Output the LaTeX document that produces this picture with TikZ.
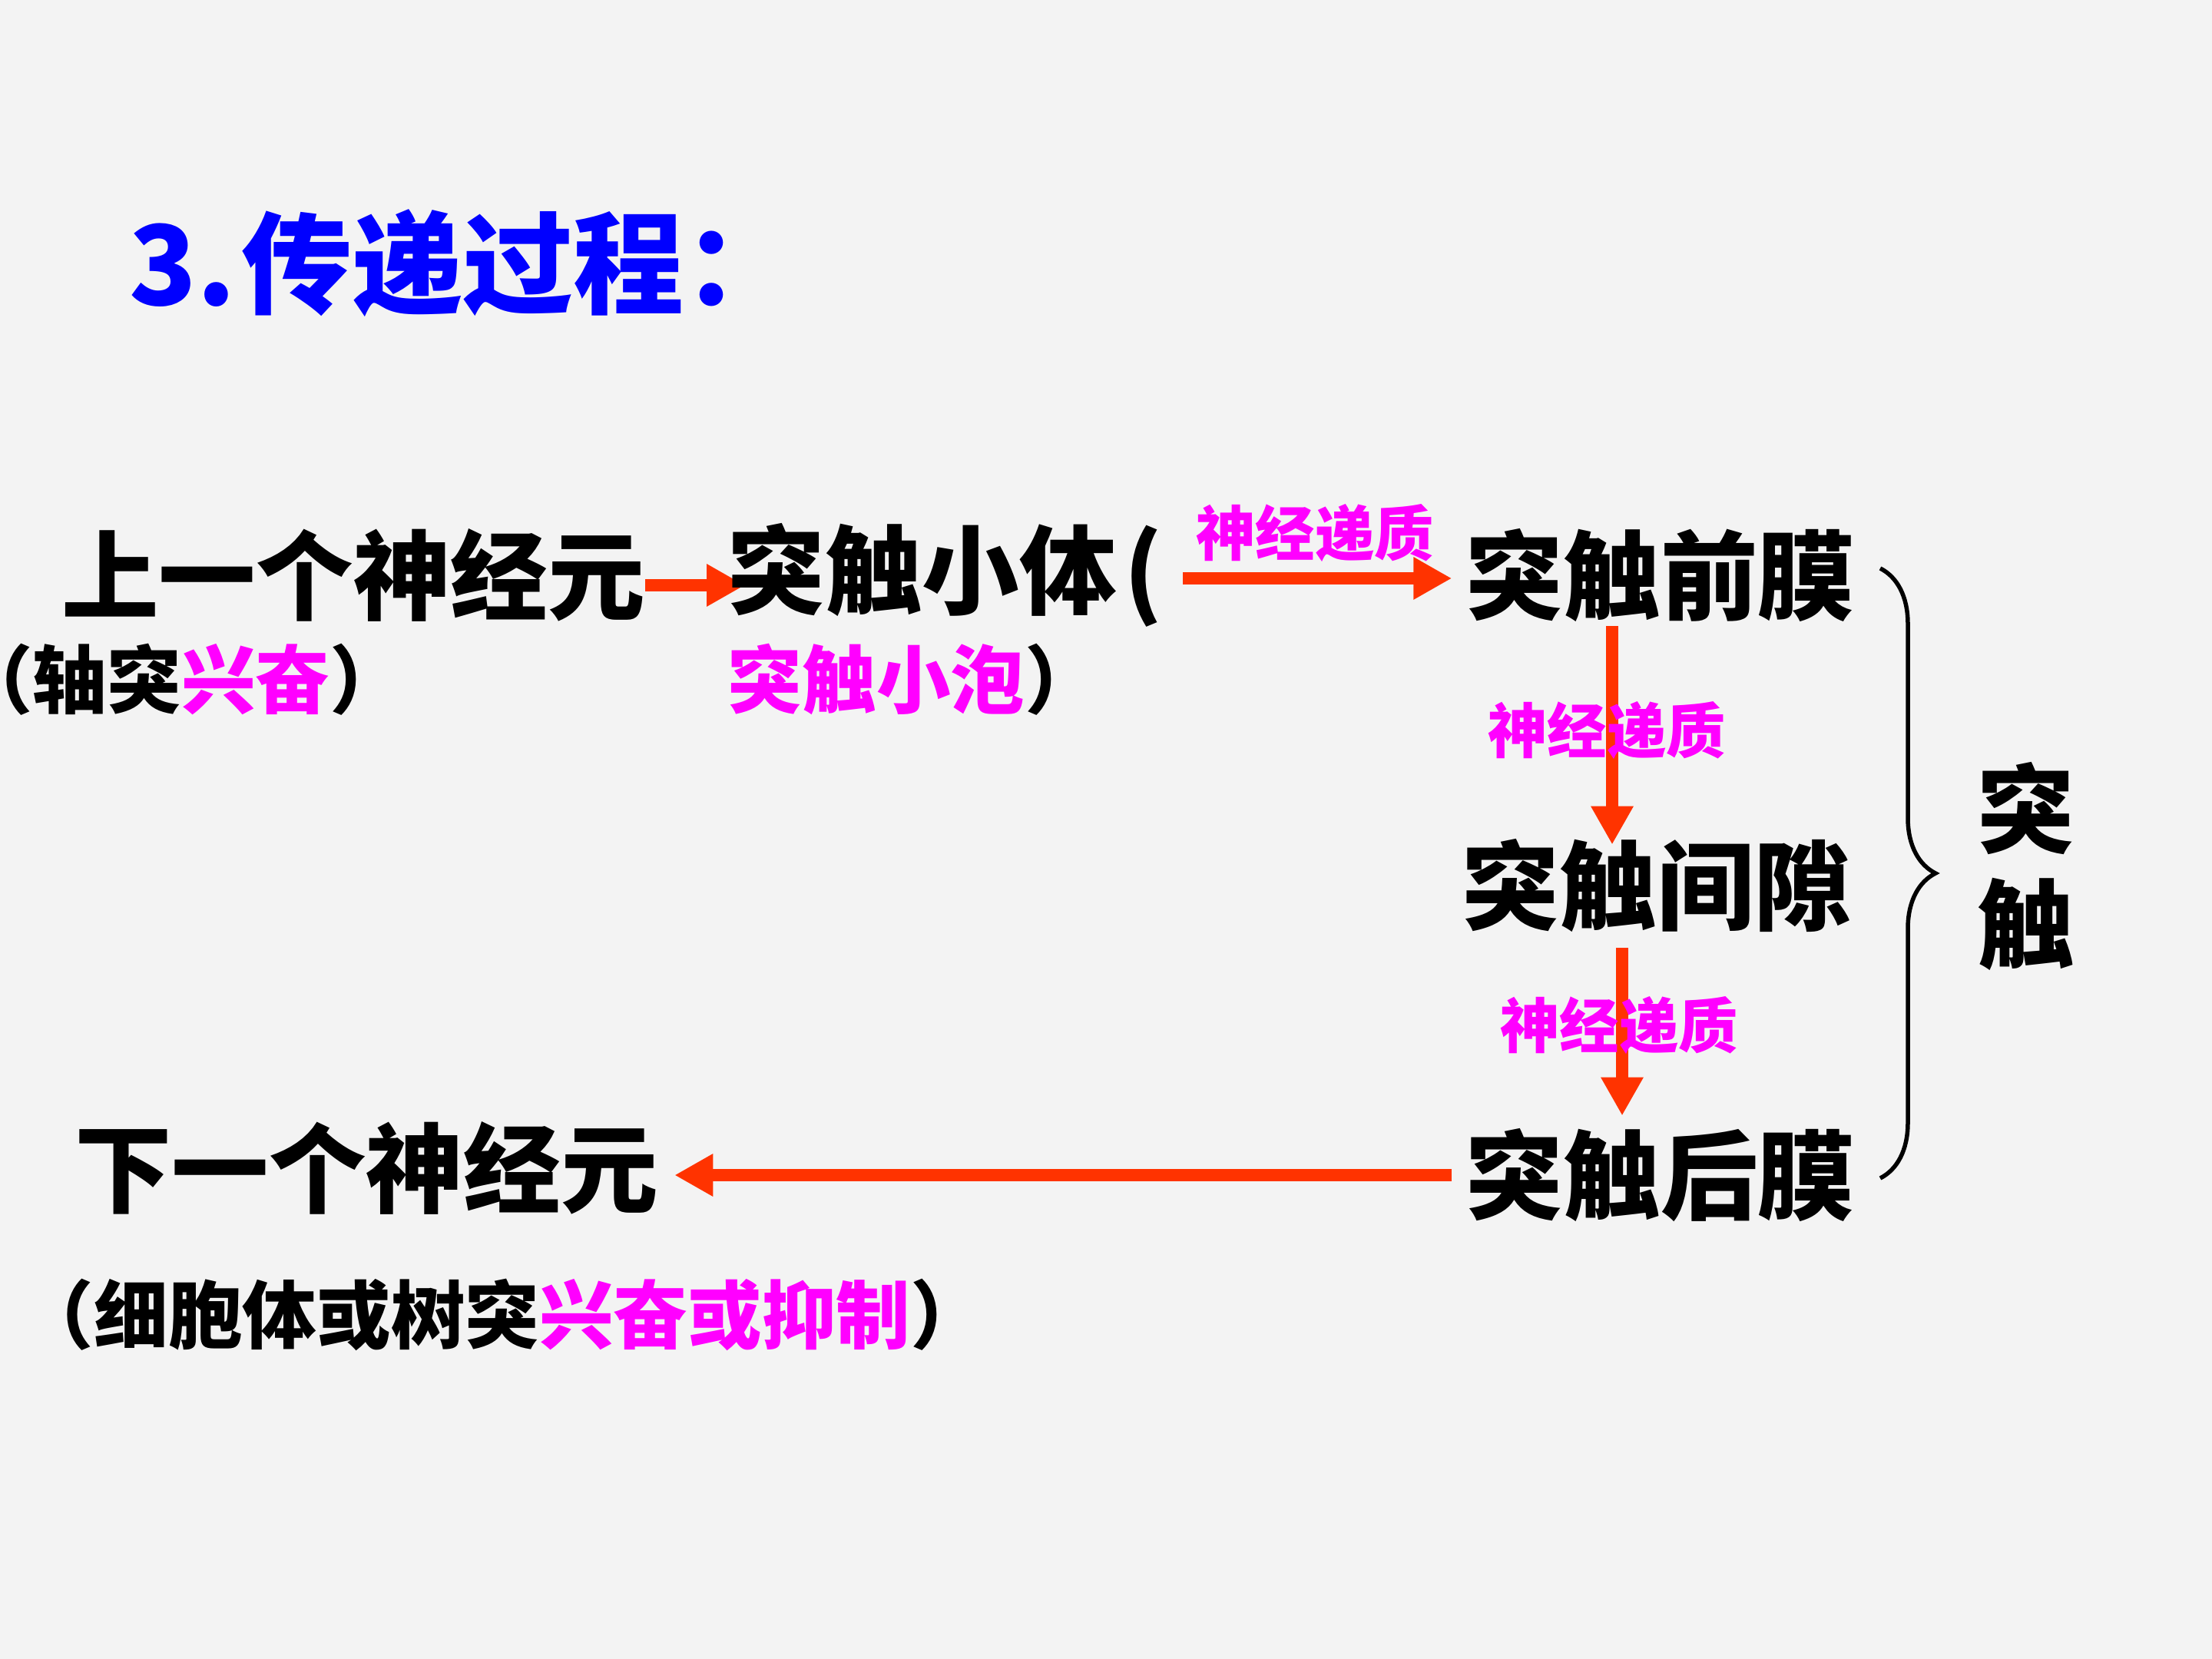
\documentclass[tikz,border=0pt]{standalone}
\usepackage{fontspec}
\setmainfont{Noto Sans CJK SC}
\usetikzlibrary{arrows.meta,positioning,decorations.pathreplacing,backgrounds}
\definecolor{bgc}{HTML}{F3F3F3}
\definecolor{arrred}{HTML}{FF3300}
\definecolor{ntmag}{HTML}{FF00FF}
\definecolor{ttlblue}{HTML}{0000FF}
\begin{document}
\begin{tikzpicture}[>=Stealth,font=\bfseries]
\tikzstyle{big}=[inner sep=0pt,font=\fontsize{36pt}{42.7pt}\selectfont\bfseries]
\tikzstyle{sub}=[inner sep=0pt,font=\fontsize{27.5pt}{33pt}\selectfont\bfseries]
\tikzstyle{nt}=[inner sep=0pt,text=ntmag,font=\fontsize{22pt}{26pt}\selectfont\bfseries]
\tikzstyle{arr}=[arrred,line width=1.6mm,-{Triangle[length=5mm,width=5.2mm]}]
\useasboundingbox (0,0) rectangle (28.8,-21.6);
\node[inner sep=0pt,anchor=west,text=ttlblue,font=\fontsize{41pt}{48pt}\selectfont\bfseries] (title) at (1.68,-3.43) {3.\hspace{0.05em}传递过程：};
\node[big] (up) at (4.60,-7.49) {上一个神经元};
\node[sub] (upsub) at (2.36,-8.85) {（轴突\textcolor{ntmag}{兴奋}）};
\node[big,anchor=west] (sv) at (9.47,-7.49) {突触小体\hspace{0.08em}(};
\node[sub,anchor=west] (svsub) at (9.47,-8.85) {\textcolor{ntmag}{突触小泡}）};
\node[big] (pre) at (21.62,-7.49) {突触前膜};
\node[big] (cleft) at (21.57,-11.53) {突触间隙};
\node[big] (post) at (21.62,-15.30) {突触后膜};
\node[big] (down) at (4.77,-15.21) {下一个神经元};
\node[sub] (downsub) at (6.54,-17.12) {（细胞体或树突\textcolor{ntmag}{兴奋或抑制}）};
\node[nt] (nt1) at (17.12,-6.94) {神经递质};
\node[nt] (nt2) at (20.92,-9.51) {神经递质};
\node[nt] (nt3) at (21.08,-13.35) {神经递质};
\node[big,align=center] (syn) at (26.38,-11.28) {突\\触};
\coordinate (bt) at (24.48,-7.40);
\coordinate (bb) at (24.48,-15.34);
\draw[line width=0.55mm,decorate,decoration={brace,amplitude=7.2mm}] (bt) -- (bb);
\begin{scope}[on background layer]
\fill[bgc] (0,0) rectangle (28.8,-21.6);
\draw[arr,shorten >=-2.3mm] ([yshift=-1.3mm]up.east) -- ([yshift=-1.3mm]sv.west);
\draw[arr,shorten <=2.5mm,shorten >=1.8mm] ([yshift=-0.4mm]sv.east) -- ([yshift=-0.4mm]pre.west);
\draw[arr,shorten <=0.5mm,shorten >=-0.8mm] ([xshift=-6.3mm]pre.south) -- ([xshift=-6.3mm]pre.south |- cleft.north);
\draw[arr,shorten <=2mm,shorten >=1.6mm] ([xshift=-4.5mm]cleft.south) -- ([xshift=-4.5mm]cleft.south |- post.north);
\draw[arr,shorten <=1.8mm,shorten >=2.1mm] (post.west) -- (post.west -| down.east);
\end{scope}
\end{tikzpicture}
\end{document}
